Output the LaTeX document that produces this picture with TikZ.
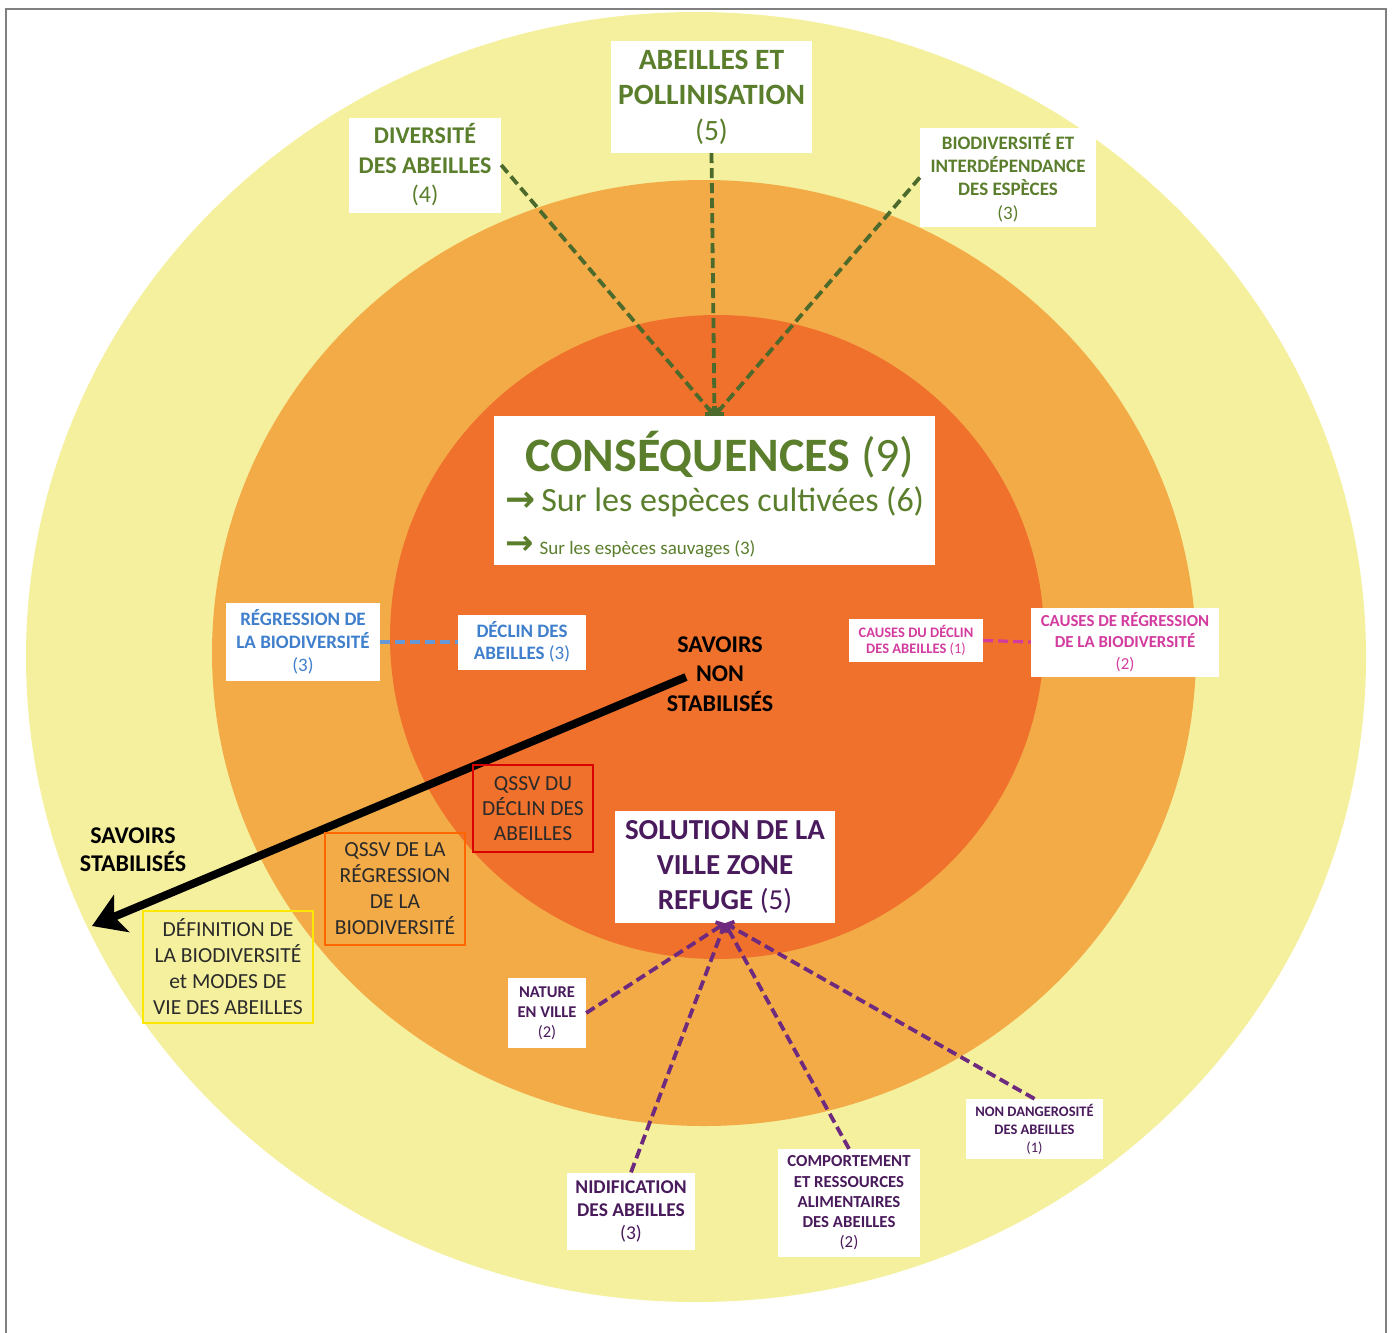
\documentclass[tikz,border=0pt]{standalone}
\usepackage{fontspec}
\setmainfont{Carlito}
\newfontfamily\symfont{DejaVu Sans}
\usetikzlibrary{arrows.meta}
\definecolor{yel}{HTML}{F5F09E}
\definecolor{midor}{HTML}{F3AB48}
\definecolor{inor}{HTML}{EF712B}
\definecolor{grn}{HTML}{5B7E2D}
\definecolor{grnd}{HTML}{4C6A2C}
\definecolor{blu}{HTML}{3F7FCC}
\definecolor{mag}{HTML}{D33C9F}
\definecolor{pur}{HTML}{4A1B5C}
\definecolor{purl}{HTML}{6E2A7E}
\definecolor{dark}{HTML}{2A2A2A}
\definecolor{frame}{HTML}{808080}
\tikzset{
  wbox/.style={fill=white, inner sep=0pt, align=center, font=\bfseries},
  obox/.style={inner sep=0pt, align=center, text=dark, line width=1.5pt},
  fs/.style n args={2}{font=\bfseries\fontsize{#1}{#2}\selectfont},
  fr/.style n args={2}{font=\fontsize{#1}{#2}\selectfont},
  gdash/.style={draw=grnd, line width=3.8pt, dash pattern=on 10pt off 5pt, -{Straight Barb[length=5pt,width=12pt]}},
  pdash/.style={draw=purl, line width=3.8pt, dash pattern=on 10pt off 5pt, -{Straight Barb[length=5pt,width=12pt]}},
}
\begin{document}
\begin{tikzpicture}[x=1pt,y=-1pt]
\useasboundingbox (0,0) rectangle (1392,1333);
\fill[white] (0,0) rectangle (1392,1333);
\draw[frame, line width=2.5pt] (6,1345) -- (6,9) -- (1386,9) -- (1386,1345);
% rings
\fill[yel] (696,657) ellipse [x radius=670pt, y radius=645pt];
\fill[midor] (704,653) ellipse [x radius=492pt, y radius=473pt];
\fill[inor] (717,637) ellipse [x radius=327pt, y radius=322pt];

% top green boxes
\node[wbox, minimum width=201pt, minimum height=112pt, text=grn, fs={29.5}{35.5}] (abpol) at (711.5,97) {ABEILLES ET\\POLLINISATION\\{\mdseries (5)}};
\node[wbox, minimum width=152pt, minimum height=95pt, text=grn, fs={24}{29.5}] (divab) at (425,165) {DIVERSITÉ\\DES ABEILLES\\{\mdseries (4)}};
\node[wbox, minimum width=176pt, minimum height=99pt, text=grn, fs={19}{23.3}] (biodiv) at (1008,177.5) {BIODIVERSITÉ ET\\INTERDÉPENDANCE\\DES ESPÈCES\\{\mdseries(3)}};

% consequences
\node[wbox, minimum width=441pt, minimum height=149pt] (cons) at (714.5,490.5) {};
\node[text=grn, fs={48}{48}, inner sep=0pt] (constitle) at (720,455) {CONSÉQUENCES {\mdseries(9)}};
\node[text=grn, fr={34}{34}, inner sep=0pt, anchor=west] (conscult) at (505,502) {{\symfont\bfseries\fontsize{36}{36}\selectfont →}\hspace{6pt}Sur les espèces cultivées (6)};
\node[text=grn, fr={19}{19}, inner sep=0pt, anchor=base west] (conssauv) at (505,554) {{\symfont\bfseries\fontsize{34}{34}\selectfont →}\hspace{6pt}Sur les espèces sauvages (3)};

% blue
\node[wbox, minimum width=154pt, minimum height=78pt, text=blu, fs={19}{23}] (regr) at (303,642) {RÉGRESSION DE\\LA BIODIVERSITÉ\\{\mdseries (3)}};
\node[wbox, minimum width=128pt, minimum height=55pt, text=blu, fs={19}{22.5}] (declin) at (522,642) {DÉCLIN DES\\ABEILLES {\mdseries(3)}};
\draw[blu!80, line width=3.2pt, dash pattern=on 10pt off 5pt] (regr.east) -- (declin.west);

% magenta
\node[wbox, minimum width=134pt, minimum height=43pt, text=mag, fs={14.5}{16.5}] (causesd) at (916,640.5) {CAUSES DU DÉCLIN\\DES ABEILLES {\mdseries(1)}};
\node[wbox, minimum width=188pt, minimum height=69pt, text=mag, fs={16.8}{21.5}] (causesr) at (1125,642) {CAUSES DE RÉGRESSION\\DE LA BIODIVERSITÉ\\{\mdseries(2)}};
\draw[mag, line width=3.2pt, dash pattern=on 10pt off 5pt] (causesd.east) -- (causesr.west);

% savoirs
\node[text=black, fs={24}{29.5}, align=center, inner sep=0pt] (snon) at (720,674) {SAVOIRS\\NON\\STABILISÉS};
\node[text=black, fs={24}{28}, align=center, inner sep=0pt] (sstab) at (133,850) {SAVOIRS\\STABILISÉS};
\coordinate (arrs) at (686,677);
\coordinate (arre) at (92,926);
\draw[black, line width=8pt, -{Stealth[length=32pt,width=40pt,inset=8pt]}] (arrs) -- (arre);

% qssv boxes
\node[obox, draw=red!85!black, minimum width=120pt, minimum height=87pt, fr={21.5}{25}] (qssvd) at (533,808.5) {QSSV DU\\DÉCLIN DES\\ABEILLES};
\node[obox, draw=orange!80!red, line width=1.2pt, minimum width=140pt, minimum height=112pt, fr={21.5}{26}] (qssvr) at (395,889) {QSSV DE LA\\RÉGRESSION\\DE LA\\BIODIVERSITÉ};
\node[obox, draw=yellow!90!orange, minimum width=170pt, minimum height=112pt, fr={21.5}{26}] (defin) at (228,967) {DÉFINITION DE\\LA BIODIVERSITÉ\\et MODES DE\\VIE DES ABEILLES};

% solution
\node[wbox, minimum width=220pt, minimum height=112pt, text=pur, fs={29}{35}] (sol) at (725,867) {SOLUTION DE LA\\VILLE ZONE\\REFUGE {\mdseries(5)}};
\node[wbox, minimum width=78pt, minimum height=70pt, text=pur, fs={16.5}{20}] (nature) at (547,1013) {NATURE\\EN VILLE\\{\mdseries(2)}};
\node[wbox, minimum width=128pt, minimum height=77pt, text=pur, fs={19.5}{23}] (nidif) at (631,1211) {NIDIFICATION\\DES ABEILLES\\{\mdseries(3)}};
\node[wbox, minimum width=142pt, minimum height=108pt, text=pur, fs={16.8}{20.2}] (comport) at (849,1203) {COMPORTEMENT\\ET RESSOURCES\\ALIMENTAIRES\\DES ABEILLES\\{\mdseries(2)}};
\node[wbox, minimum width=137pt, minimum height=60pt, text=pur, fs={14.5}{18}] (nondang) at (1034.5,1129) {NON DANGEROSITÉ\\DES ABEILLES\\{\mdseries(1)}};

% green connectors
\draw[gdash] (divab.east) -- (cons.north);
\draw[gdash] (abpol.south) -- (cons.north);
\draw[gdash] (biodiv.west) -- (cons.north);
% purple connectors
\draw[pdash] (nature.east) -- (sol.south);
\draw[pdash] (nidif.north) -- (sol.south);
\draw[pdash] (comport.north) -- (sol.south);
\draw[pdash] (nondang.north) -- (sol.south);
\end{tikzpicture}
\end{document}
